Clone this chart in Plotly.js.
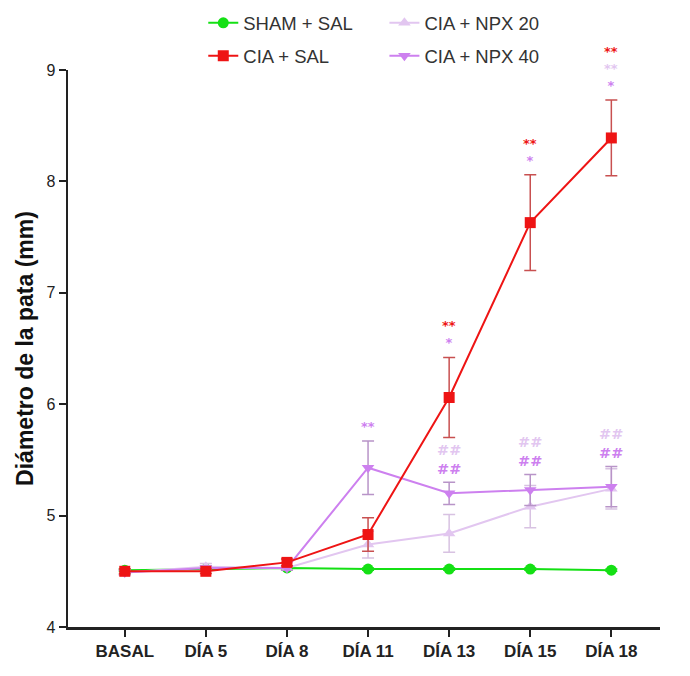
<!DOCTYPE html>
<html>
<head>
<meta charset="utf-8">
<script src="https://cdn.plot.ly/plotly-3.0.1.min.js"></script>
<style>html,body{margin:0;padding:0;background:#fff;}#chart{width:690px;height:676px;}</style>
</head>
<body>
<div id="chart"></div>
<script>
// ---- data ----
const categories = ['BASAL', 'DÍA 5', 'DÍA 8', 'DÍA 11', 'DÍA 13', 'DÍA 15', 'DÍA 18'];
const shamSal = [4.51, 4.52, 4.53, 4.52, 4.52, 4.52, 4.51];
const shamSalErr = [0.01, 0.01, 0.01, 0.01, 0.01, 0.01, 0.01];
const ciaSal = [4.50, 4.50, 4.58, 4.83, 6.06, 7.63, 8.39];
const ciaSalErr = [0.02, 0.02, 0.03, 0.15, 0.36, 0.43, 0.34];
const npx20 = [4.49, 4.54, 4.53, 4.74, 4.84, 5.08, 5.24];
const npx20Err = [0.02, 0.03, 0.02, 0.12, 0.17, 0.19, 0.18];
const npx40 = [4.49, 4.53, 4.53, 5.43, 5.20, 5.23, 5.26];
const npx40Err = [0.02, 0.02, 0.02, 0.24, 0.10, 0.14, 0.18];
// significance marks (vs SHAM + SAL: *, vs CIA + SAL: #)
const sigCiaSal = ['', '', '', '', '**', '**', '**'];
const sigNpx20 = ['', '', '', '', '', '', '**'];
const sigNpx40 = ['', '', '', '**', '*', '*', '*'];
const hashNpx20 = ['', '', '', '', '##', '##', '##'];
const hashNpx40 = ['', '', '', '', '##', '##', '##'];
const seriesNames = ['SHAM + SAL', 'CIA + SAL', 'CIA + NPX 20', 'CIA + NPX 40'];

// ---- styles ----
const cGreen = '#14e014', cRed = '#ee1414', c20 = '#e2c6f0', c40 = '#cd80ef';
const eRed = '#c85050', e20 = '#d8c2e2', e40 = '#b894c8';
const FONT = 'Liberation Sans, Arial, sans-serif';
const MARKFONT = 'DejaVu Sans, sans-serif';

function tr(name, y, err, color, ecolor, symbol, legend, rank) {
  return {
    type: 'scatter', mode: 'lines+markers', name: name, x: categories, y: y,
    line: {color: color, width: 2},
    marker: {color: color, symbol: symbol, size: 11},
    error_y: {type: 'data', array: err, visible: true, color: ecolor, thickness: 1.5, width: 6},
    legend: legend, legendgroup: name, legendrank: rank, cliponaxis: false
  };
}
const data = [
  tr(seriesNames[0], shamSal, shamSalErr, cGreen, cGreen, 'circle', 'legend', 1),
  tr(seriesNames[2], npx20, npx20Err, c20, e20, 'triangle-up', 'legend2', 1),
  tr(seriesNames[3], npx40, npx40Err, c40, e40, 'triangle-down', 'legend2', 2),
  tr(seriesNames[1], ciaSal, ciaSalErr, cRed, eRed, 'square', 'legend', 2)
];

// ---- significance annotations: one stacked block per day, above the error bars ----
const yMin = 4, yMax = 9;
const annotations = [];
function addBlock(i, y, parts, size) {
  // parts listed bottom -> top
  const lines = parts.filter(p => p[0][i]).map(p => '<span style="color:' + p[1] + '">' + p[0][i] + '</span>');
  if (!lines.length) return;
  annotations.push({xref: 'x', yref: 'paper', x: categories[i], y: (y - yMin) / (yMax - yMin),
    text: '<b>' + lines.reverse().join('<br>') + '</b>', showarrow: false, yanchor: 'bottom',
    borderpad: 0, font: {family: MARKFONT, size: size, color: '#000'}});
}
categories.forEach((c, i) => {
  const topAll = Math.max(ciaSal[i] + ciaSalErr[i], npx20[i] + npx20Err[i], npx40[i] + npx40Err[i]);
  addBlock(i, topAll + 0.055, [[sigNpx40, c40], [sigNpx20, c20], [sigCiaSal, cRed]], 13);
  const topNpx = Math.max(npx20[i] + npx20Err[i], npx40[i] + npx40Err[i]);
  addBlock(i, topNpx + 0.04, [[hashNpx40, c40], [hashNpx20, c20]], 14.5);
});

const layout = {
  width: 690, height: 676,
  margin: {l: 68, r: 30, t: 70, b: 49, autoexpand: false},
  paper_bgcolor: '#fff', plot_bgcolor: '#fff',
  font: {family: FONT, size: 14, color: '#222'},
  showlegend: true,
  legend: {x: 0.2285, y: 1.118, xanchor: 'left', yanchor: 'top', orientation: 'v',
    font: {size: 18.5, color: '#333'}, tracegroupgap: 6, bgcolor: 'rgba(0,0,0,0)'},
  legend2: {x: 0.5345, y: 1.118, xanchor: 'left', yanchor: 'top', orientation: 'v',
    font: {size: 18.5, color: '#333'}, tracegroupgap: 6, bgcolor: 'rgba(0,0,0,0)'},
  xaxis: {type: 'category', range: [-0.7, 6.6], showgrid: false, zeroline: false,
    showline: true, linecolor: '#222', linewidth: 2.5,
    ticks: 'outside', ticklen: 7, tickwidth: 2, tickcolor: '#222',
    tickfont: {size: 17, color: '#222', weight: 'bold'}},
  yaxis: {range: [yMin, yMax], dtick: 1, showgrid: false, zeroline: false,
    showline: true, linecolor: '#222', linewidth: 2.5,
    ticks: 'outside', ticklen: 7, tickwidth: 2, tickcolor: '#222',
    tickfont: {size: 16, color: '#222'},
    title: {text: 'Diámetro de la pata (mm)', standoff: 7,
      font: {size: 23, color: '#111', weight: 'bold'}}},
  annotations: annotations
};
Plotly.newPlot('chart', data, layout, {staticPlot: true, displayModeBar: false});
</script>
</body>
</html>
